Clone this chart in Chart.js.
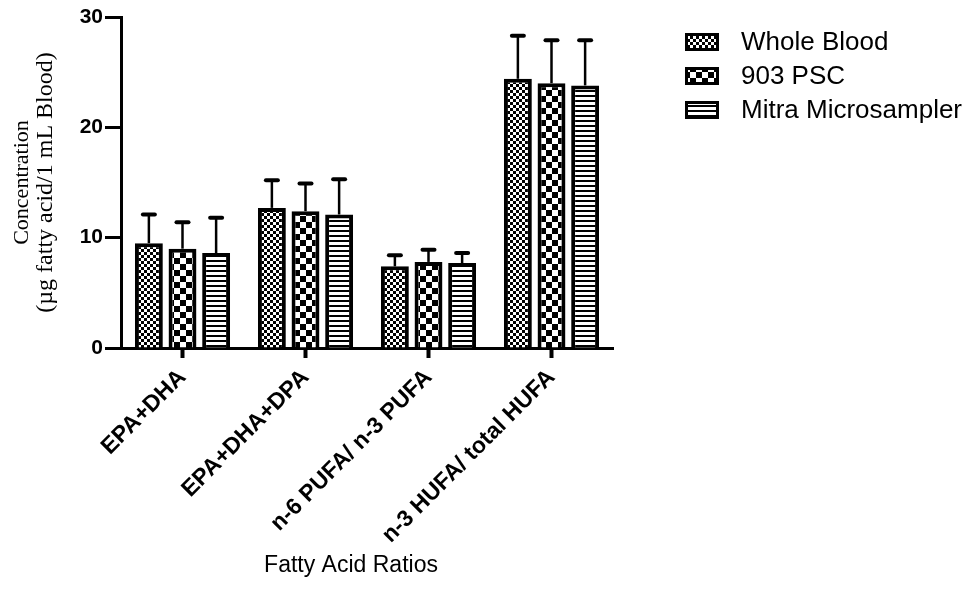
<!DOCTYPE html>
<html>
<head>
  <title>Fatty Acid Ratios</title>
  <script src="https://cdn.jsdelivr.net/npm/chart.js"></script>
  <style>
    body { margin: 0; background: #fff; }
  </style>
</head>
<body>
  <canvas id="fattyChart" width="973" height="606"></canvas>

  <script>
    // data
    var categories = ["EPA+DHA", "EPA+DHA+DPA", "n-6 PUFA/ n-3 PUFA", "n-3 HUFA/ total HUFA"];
    var seriesNames = ["Whole Blood", "903 PSC", "Mitra Microsampler"];
    var wholeBlood = [9.5, 12.7, 7.4, 24.4];
    var wholeBloodSD = [2.6, 2.5, 1.0, 3.9];
    var psc903 = [9.0, 12.4, 7.8, 24.0];
    var psc903SD = [2.4, 2.5, 1.1, 3.9];
    var mitra = [8.6, 12.1, 7.7, 23.8];
    var mitraSD = [3.2, 3.2, 0.9, 4.1];
    var yTicks = [0, 10, 20, 30];
    var xTitle = "Fatty Acid Ratios";
    var yTitle = ["Concentration", "(\u00b5g fatty acid/1 mL Blood)"];

    var FONT = "'Liberation Sans', Arial, sans-serif";
    var SERIF = "'Liberation Serif', 'Times New Roman', serif";
    var canvas = document.getElementById("fattyChart");
    var mainCtx = canvas.getContext("2d");

    // black & white fill patterns like the Prism bars
    function makePattern(kind) {
      var c = document.createElement("canvas");
      var g = c.getContext("2d");
      if (kind === "fine") {
        c.width = 6; c.height = 6;
        g.fillStyle = "#fff"; g.fillRect(0, 0, 6, 6);
        g.fillStyle = "#000"; g.fillRect(0, 0, 3, 3); g.fillRect(3, 3, 3, 3);
      } else if (kind === "coarse") {
        c.width = 12; c.height = 12;
        g.fillStyle = "#fff"; g.fillRect(0, 0, 12, 12);
        g.fillStyle = "#000"; g.fillRect(0, 0, 6, 6); g.fillRect(6, 6, 6, 6);
      } else {
        c.width = 8; c.height = 5;
        g.fillStyle = "#fff"; g.fillRect(0, 0, 8, 5);
        g.fillStyle = "#000"; g.fillRect(0, 0, 8, 2);
      }
      return mainCtx.createPattern(c, "repeat");
    }

    var patterns = [makePattern("fine"), makePattern("coarse"), makePattern("lines")];

    function dataset(i, values, sd) {
      return {
        label: seriesNames[i],
        data: values,
        sd: sd,
        backgroundColor: patterns[i],
        borderColor: "#000",
        borderWidth: 4,
        borderSkipped: "bottom",
        categoryPercentage: 0.82,
        barPercentage: 0.83
      };
    }

    // upward-only SD bars
    var errorBars = {
      id: "errorBars",
      afterDatasetsDraw: function(chart) {
        var ctx = chart.ctx;
        var y = chart.scales.y;
        chart.data.datasets.forEach(function(ds, i) {
          chart.getDatasetMeta(i).data.forEach(function(bar, j) {
            var top = y.getPixelForValue(ds.data[j] + ds.sd[j]);
            ctx.save();
            ctx.strokeStyle = "#000";
            ctx.lineWidth = 2.5;
            ctx.beginPath();
            ctx.moveTo(bar.x, bar.y);
            ctx.lineTo(bar.x, top);
            ctx.stroke();
            ctx.lineWidth = 4;
            ctx.lineCap = "round";
            ctx.beginPath();
            ctx.moveTo(bar.x - 6, top);
            ctx.lineTo(bar.x + 6, top);
            ctx.stroke();
            ctx.restore();
          });
        });
      }
    };

    // legend on the right plus the two axis titles
    var sideLegend = {
      id: "sideLegend",
      afterDraw: function(chart) {
        var ctx = chart.ctx;
        var area = chart.chartArea;
        var x = area.right + 72;
        ctx.save();
        chart.data.datasets.forEach(function(ds, i) {
          var top = 33 + i * 34;
          ctx.fillStyle = "#000";
          ctx.fillRect(x, top, 34, 18);
          ctx.fillStyle = ds.backgroundColor;
          ctx.fillRect(x + 3, top + 3, 28, 12);
          ctx.fillStyle = "#000";
          ctx.font = "26px " + FONT;
          ctx.textBaseline = "middle";
          ctx.fillText(ds.label, x + 56, top + 10);
        });
        ctx.font = "23px " + FONT;
        ctx.textAlign = "center";
        ctx.fillText(xTitle, (area.left + area.right) / 2 - 16, 566);

        // y title, rotated
        ctx.translate(0, (area.top + area.bottom) / 2);
        ctx.rotate(-Math.PI / 2);
        ctx.font = "22px " + SERIF;
        ctx.fillText(yTitle[0], 0, 22);
        ctx.font = "24px " + SERIF;
        ctx.fillText(yTitle[1], 0, 46);
        ctx.restore();
      }
    };

    var fattyChart = new Chart(canvas, {
      type: "bar",
      data: {
        labels: categories,
        datasets: [
          dataset(0, wholeBlood, wholeBloodSD),
          dataset(1, psc903, psc903SD),
          dataset(2, mitra, mitraSD)
        ]
      },
      options: {
        responsive: false,
        animation: false,
        layout: {
          padding: { left: 0, top: 17, right: 360, bottom: 0 }
        },
        plugins: {
          legend: { display: false },
          tooltip: { enabled: false }
        },
        scales: {
          x: {
            grid: {
              offset: false,
              drawOnChartArea: false,
              drawTicks: true,
              tickLength: 10,
              tickWidth: 4,
              color: "#000"
            },
            border: { color: "#000", width: 3 },
            ticks: {
              maxRotation: 45,
              minRotation: 45,
              color: "#000",
              padding: 6,
              font: { family: FONT, weight: "bold", size: 23 }
            },
            afterFit: function(scale) { scale.height = 258; }
          },
          y: {
            min: 0,
            max: 30,
            afterBuildTicks: function(scale) {
              scale.ticks = yTicks.map(function(v) { return { value: v }; });
            },
            grid: {
              drawOnChartArea: false,
              drawTicks: true,
              tickLength: 16,
              tickWidth: 3,
              color: "#000"
            },
            border: { color: "#000", width: 3 },
            ticks: {
              color: "#000",
              padding: 2,
              font: { family: FONT, weight: "bold", size: 21 }
            },
            afterFit: function(scale) { scale.width = 121; }
          }
        }
      },
      plugins: [errorBars, sideLegend]
    });
  </script>
</body>
</html>
